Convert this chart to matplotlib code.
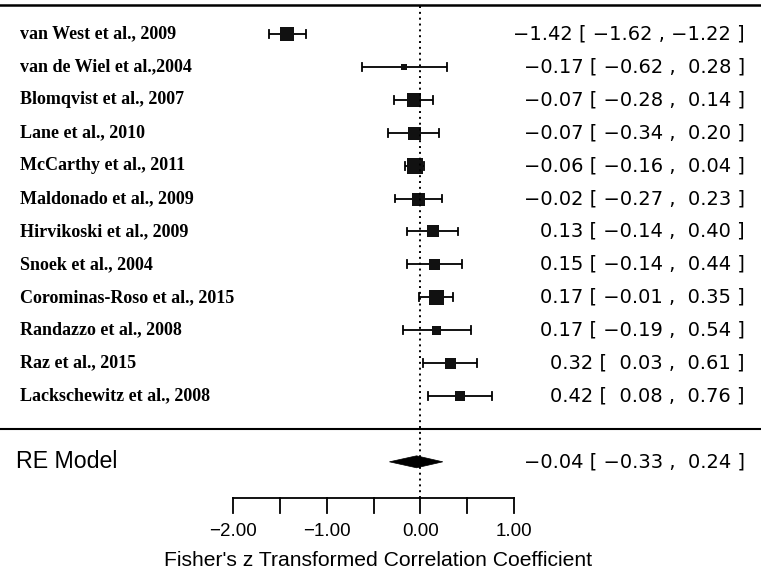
import matplotlib
matplotlib.use("Agg")
import matplotlib.pyplot as plt
from matplotlib.patches import Polygon

studies = ["van West et al., 2009", "van de Wiel et al.,2004", "Blomqvist et al., 2007",
           "Lane et al., 2010", "McCarthy et al., 2011", "Maldonado et al., 2009",
           "Hirvikoski et al., 2009", "Snoek et al., 2004", "Corominas-Roso et al., 2015",
           "Randazzo et al., 2008", "Raz et al., 2015", "Lackschewitz et al., 2008"]
est = [-1.42, -0.17, -0.07, -0.07, -0.06, -0.02, 0.13, 0.15, 0.17, 0.17, 0.32, 0.42]
lo = [-1.62, -0.62, -0.28, -0.34, -0.16, -0.27, -0.14, -0.14, -0.01, -0.19, 0.03, 0.08]
hi = [-1.22, 0.28, 0.14, 0.20, 0.04, 0.23, 0.40, 0.44, 0.35, 0.54, 0.61, 0.76]
sizes_px = [14, 6, 14, 13, 16, 13, 12, 11, 15, 9, 11, 10]
re_est, re_lo, re_hi = -0.04, -0.33, 0.24
xticks = [-2.0, -1.5, -1.0, -0.5, 0.0, 0.5, 1.0]
xticklabels = ["\u22122.00", "", "\u22121.00", "", "0.00", "", "1.00"]
xlabel = "Fisher's z Transformed Correlation Coefficient"

W, H = 761, 573
fig = plt.figure(figsize=(W / 100, H / 100), dpi=100)
ax = fig.add_axes([0, 0, 1, 1])
ax.axis("off")

# coordinate mapping
pxu = (514 - 233) / 3.0
xl = -2 - 233 / pxu
xr = xl + W / pxu
k = len(studies)
pyu = (396 - 34) / (k - 1)
ytop = k + 34 / pyu
ybot = k - (H - 34) / pyu
ax.set_xlim(xl, xr)
ax.set_ylim(ybot, ytop)

def fmt(v):
    s = f"{v:5.2f}"
    return s.replace("-", "\u2212")

def annot(e, l, h):
    return f"{fmt(e).strip()} [ {fmt(l)} , {fmt(h)} ]"

serif = ["Liberation Serif", "DejaVu Serif"]
sans = ["Liberation Sans", "DejaVu Sans"]
annfont = ["DejaVu Sans"]
cap = 0.12
lw = 1.3

for i, (name, e, l, h, s) in enumerate(zip(studies, est, lo, hi, sizes_px)):
    y = k - i
    ax.plot([l, h], [y, y], color="black", lw=lw, solid_capstyle="butt")
    ax.plot([l, l], [y - cap, y + cap], color="black", lw=lw)
    ax.plot([h, h], [y - cap, y + cap], color="black", lw=lw)
    ax.plot([e], [y], marker="s", ms=s * 0.72, color="#111111", mec="#111111", mew=0)
    ax.text(xl + 20 / pxu, y, name, ha="left", va="center", fontsize=13,
            fontweight="bold", family=serif)
    ax.text(xl + 745 / pxu, y, annot(e, l, h),
            ha="right", va="center", fontsize=14, family=annfont)

# RE model
yre = -1
dh = 6 / pyu
ax.add_patch(Polygon([[re_lo, yre], [re_est, yre + dh], [re_hi, yre], [re_est, yre - dh]],
                     closed=True, facecolor="black", edgecolor="black", lw=0.5))
ax.text(xl + 16 / pxu, yre, "RE Model", ha="left", va="center", fontsize=16.7, family=sans)
ax.text(xl + 745 / pxu, yre, annot(re_est, re_lo, re_hi),
        ha="right", va="center", fontsize=14, family=annfont)

# lines
ytopline = k - (5 - 34) / pyu
ax.plot([xl, xr], [ytopline, ytopline], color="black", lw=1.8)
ax.plot([xl, xr], [0, 0], color="black", lw=1.5)
yax = k - (498 - 34) / pyu
ax.plot([0, 0], [yax, ytopline], color="black", lw=1.4, ls=(0, (1, 2.0)))

# x axis
ax.plot([xticks[0], xticks[-1]], [yax, yax], color="black", lw=1.3)
tlen = 15 / pyu
for t, lab in zip(xticks, xticklabels):
    ax.plot([t, t], [yax, yax - tlen], color="black", lw=1.3)
    if lab:
        ax.text(t, k - (531 - 34) / pyu, lab, ha="center", va="center", fontsize=13.5, family=sans)
ax.text(xl + 378 / pxu, k - (561 - 34) / pyu, xlabel, ha="center",
        va="center", fontsize=15.2, family=sans)

fig.savefig("out.png", dpi=100)
